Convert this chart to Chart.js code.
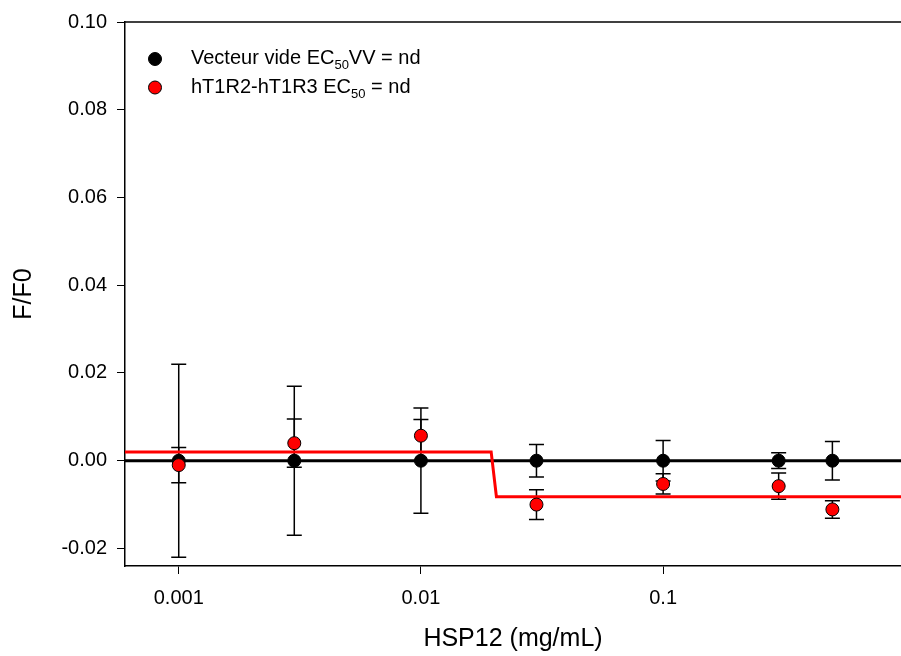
<!DOCTYPE html>
<html>
<head>
<meta charset="utf-8">
<script src="https://cdn.jsdelivr.net/npm/chart.js@4"></script>
<style>
  body { margin: 0; background: #fff; }
  #wrap { width: 901px; height: 656px; }
</style>
</head>
<body>
<div id="wrap"><canvas id="doseChart"></canvas></div>
<script>
// concentrations (mg/mL) and F/F0 means +- error
const concentrations = [0.001, 0.003, 0.01, 0.03, 0.1, 0.3, 0.5];
const vvMean = [0, 0, 0, 0, 0, 0, 0];
const vvErr = [0.022, 0.017, 0.012, 0.0037, 0.0046, 0.0018, 0.0044];
const t1rMean = [-0.001, 0.004, 0.0057, -0.010, -0.0053, -0.0058, -0.0111];
const t1rErr = [0.004, 0.0055, 0.0037, 0.0034, 0.0023, 0.003, 0.002];

// fitted curves
const fitX = [0.0006, 0.0195, 0.0205, 0.96];
const vvFit = [0, 0, 0, 0];
const t1rFit = [0.002, 0.002, -0.0082, -0.0082];

const xTicks = [0.001, 0.01, 0.1];
const yTicks = [-0.02, 0, 0.02, 0.04, 0.06, 0.08, 0.10];
const xMin = 0.0006, xMax = 0.96;
const yMin = -0.024, yMax = 0.10;

const FONT = 'Arial, "Liberation Sans", sans-serif';

const pts = (xs, ys) => xs.map((v, i) => ({ x: v, y: ys[i] }));

// error bars under the points
const errorBars = {
  id: 'errorBars',
  beforeDatasetsDraw(chart) {
    const { ctx, scales: { x, y } } = chart;
    ctx.save();
    ctx.strokeStyle = '#000';
    ctx.lineWidth = 1.5;
    [[vvMean, vvErr], [t1rMean, t1rErr]].forEach(([m, e]) => {
      concentrations.forEach((c, i) => {
        const px = x.getPixelForValue(c);
        const top = y.getPixelForValue(m[i] + e[i]);
        const bot = y.getPixelForValue(m[i] - e[i]);
        ctx.beginPath();
        ctx.moveTo(px, top); ctx.lineTo(px, bot);
        ctx.moveTo(px - 7.5, top); ctx.lineTo(px + 7.5, top);
        ctx.moveTo(px - 7.5, bot); ctx.lineTo(px + 7.5, bot);
        ctx.stroke();
      });
    });
    ctx.restore();
  }
};

// top frame line + legend with subscripts
const frameAndLegend = {
  id: 'frameAndLegend',
  afterDraw(chart) {
    const { ctx, chartArea } = chart;
    ctx.save();
    ctx.strokeStyle = '#000';
    ctx.lineWidth = 1.5;
    ctx.beginPath();
    ctx.moveTo(chartArea.left, chartArea.top);
    ctx.lineTo(chart.width, chartArea.top);
    ctx.stroke();

    const rows = [
      { fill: '#000', parts: ['Vecteur vide EC', '50', 'VV = nd'] },
      { fill: '#ff0000', parts: ['hT1R2-hT1R3 EC', '50', ' = nd'] }
    ];
    const mx = chartArea.left + 30;
    const tx = chartArea.left + 66;
    rows.forEach((r, i) => {
      const cy = chartArea.top + 37 + i * 28.5;
      ctx.beginPath();
      ctx.arc(mx, cy, 6.5, 0, Math.PI * 2);
      ctx.fillStyle = r.fill;
      ctx.fill();
      ctx.lineWidth = 1;
      ctx.strokeStyle = '#000';
      ctx.stroke();

      const base = cy + 5;
      ctx.fillStyle = '#000';
      ctx.textBaseline = 'alphabetic';
      ctx.textAlign = 'left';
      let x = tx;
      ctx.font = '20px ' + FONT;
      ctx.fillText(r.parts[0], x, base);
      x += ctx.measureText(r.parts[0]).width;
      ctx.font = '13px ' + FONT;
      ctx.fillText(r.parts[1], x, base + 5);
      x += ctx.measureText(r.parts[1]).width;
      ctx.font = '20px ' + FONT;
      ctx.fillText(r.parts[2], x, base);
    });
    ctx.restore();
  }
};

new Chart(document.getElementById('doseChart'), {
  type: 'scatter',
  data: {
    datasets: [
      {
        label: 'fit VV',
        data: pts(fitX, vvFit),
        showLine: true,
        borderColor: '#000',
        borderWidth: 3,
        pointRadius: 0,
        order: 4
      },
      {
        label: 'fit hT1R2-hT1R3',
        data: pts(fitX, t1rFit),
        showLine: true,
        borderColor: '#ff0000',
        borderWidth: 3,
        pointRadius: 0,
        order: 3
      },
      {
        label: 'Vecteur vide',
        data: pts(concentrations, vvMean),
        backgroundColor: '#000',
        borderColor: '#000',
        borderWidth: 1,
        pointRadius: 6.5,
        order: 2
      },
      {
        label: 'hT1R2-hT1R3',
        data: pts(concentrations, t1rMean),
        backgroundColor: '#ff0000',
        borderColor: '#000',
        borderWidth: 1,
        pointRadius: 6.5,
        order: 1
      }
    ]
  },
  options: {
    responsive: true,
    maintainAspectRatio: false,
    animation: false,
    layout: { autoPadding: false, padding: { top: 20, right: 0, bottom: 0, left: 0 } },
    plugins: {
      legend: { display: false },
      tooltip: { enabled: false }
    },
    scales: {
      x: {
        type: 'logarithmic',
        min: xMin,
        max: xMax,
        afterBuildTicks: (axis) => { axis.ticks = xTicks.map(v => ({ value: v })); },
        afterFit: (scale) => {
          scale.height = 90;
          scale.paddingLeft = 0;
          scale.paddingRight = 0;
        },
        ticks: {
          color: '#000',
          font: { size: 20, family: FONT },
          padding: 12,
          maxRotation: 0,
          autoSkip: false,
          callback: (v) => String(v)
        },
        grid: { drawOnChartArea: false, drawTicks: true, tickLength: 8, tickColor: '#000', tickWidth: 1 },
        border: { display: true, color: '#000', width: 1.5 },
        title: {
          display: true,
          text: 'HSP12 (mg/mL)',
          color: '#000',
          font: { size: 25, family: FONT },
          padding: { top: 0, bottom: 2 }
        }
      },
      y: {
        min: yMin,
        max: yMax,
        afterBuildTicks: (axis) => { axis.ticks = yTicks.map(v => ({ value: v })); },
        afterFit: (scale) => { scale.width = 125; },
        ticks: {
          color: '#000',
          font: { size: 20, family: FONT },
          padding: 10,
          callback: (v) => v.toFixed(2)
        },
        grid: { drawOnChartArea: false, drawTicks: true, tickLength: 8, tickColor: '#000', tickWidth: 1 },
        border: { display: true, color: '#000', width: 1.5 },
        title: {
          display: true,
          text: 'F/F0',
          color: '#000',
          font: { size: 25, family: FONT },
          padding: { top: 9, bottom: 0 }
        }
      }
    }
  },
  plugins: [errorBars, frameAndLegend]
});
</script>
</body>
</html>
